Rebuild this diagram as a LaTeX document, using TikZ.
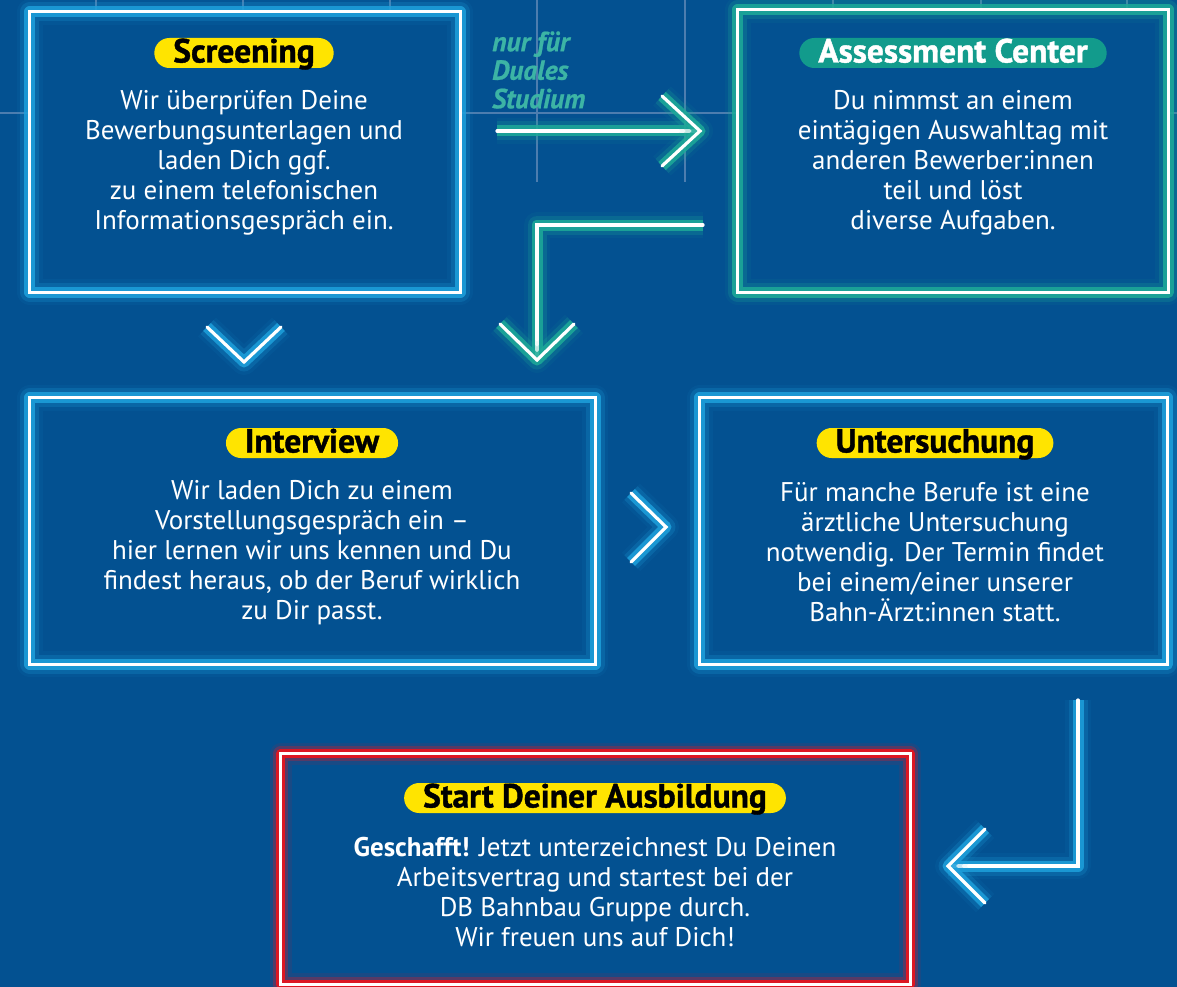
\documentclass[tikz,border=0pt]{standalone}
\usepackage{fontspec}
\setmainfont{PT Sans}
\newfontfamily\headfont{PT Sans Bold}[FakeBold=1.2]
\newfontfamily\notefont{PT Sans Bold Italic}[FakeBold=0.8]
\usetikzlibrary{calc}
\definecolor{bg}{RGB}{3,81,145}
\definecolor{gridc}{RGB}{77,125,175}
\definecolor{glowblue}{RGB}{30,160,220}
\definecolor{glowteal}{RGB}{30,170,152}
\definecolor{glowred}{RGB}{228,22,32}
\definecolor{pillyellow}{RGB}{255,228,0}
\definecolor{pillteal}{RGB}{18,155,140}
\definecolor{tealtext}{RGB}{60,180,165}
\tikzset{
  glowbase/.style={draw=white, line width=3.2pt, line join=miter},
  glowB/.style={glowbase,
    preaction={draw=glowblue,line width=26pt,opacity=.07,line join=round},
    preaction={draw=glowblue,line width=19pt,opacity=.22,line join=round},
    preaction={draw=glowblue,line width=11pt,opacity=.85,line join=round}},
  glowT/.style={glowbase,
    preaction={draw=glowteal,line width=26pt,opacity=.07,line join=round},
    preaction={draw=glowteal,line width=19pt,opacity=.22,line join=round},
    preaction={draw=glowteal,line width=11pt,opacity=.85,line join=round}},
  glowR/.style={glowbase,
    preaction={draw=glowred,line width=22pt,opacity=.10,line join=round},
    preaction={draw=glowred,line width=15pt,opacity=.30,line join=round},
    preaction={draw=glowred,line width=9pt,opacity=.95,line join=round}},
  box/.style={fill=bg, draw=none, inner sep=0pt},
  body/.style={text=white, align=center, font=\fontsize{27}{30}\selectfont, inner sep=0pt},
  pill/.style={fill=pillyellow, text=black, rounded corners=15pt, minimum height=30pt,
    inner xsep=19pt, inner ysep=0pt, text height=22pt, text depth=3pt,
    font=\fontsize{33.5}{33.5}\headfont},
  gridline/.style={draw=gridc, line width=1.4pt}
}
\begin{document}
\begin{tikzpicture}[x=1pt,y=-1pt]
\useasboundingbox (0,0) rectangle (1177,987);
\fill[bg] (0,0) rectangle (1177,987);
% background grid
\foreach \gx in {96,243,390,537,685,833,981,1127} {\draw[gridline] (\gx,0) -- (\gx,182);}
\draw[gridline] (0,113) -- (1177,113);

% boxes
\node[box, minimum width=430pt, minimum height=280pt] (scr) at (245,152) {};
\node[box, minimum width=430pt, minimum height=282pt] (ac) at (953,151) {};
\node[box, minimum width=565pt, minimum height=266pt] (int) at (312.5,531) {};
\node[box, minimum width=467pt, minimum height=266pt] (unt) at (933.5,531) {};
\node[box, minimum width=629pt, minimum height=230pt] (start) at (595.5,869) {};

\draw[glowB] (scr.north west) rectangle (scr.south east);
\draw[glowT] (ac.north west) rectangle (ac.south east);
\draw[glowB] (int.north west) rectangle (int.south east);
\draw[glowB] (unt.north west) rectangle (unt.south east);
\draw[glowR] (start.north west) rectangle (start.south east);

% labels
\node[pill] (scrl) at (244,53) {Screening};
\node[pill, fill=pillteal, text=white] (acl) at (953,53) {Assessment Center};
\node[pill] (intl) at (312,443) {Interview};
\node[pill] (untl) at (935,443) {Untersuchung};
\node[pill] (startl) at (595,798) {Start Deiner Ausbildung};

% body texts
\node[body] (scrt) at (244,163) {Wir überprüfen Deine\\Bewerbungsunterlagen und\\laden Dich ggf.\\zu einem telefonischen\\Informationsgespräch ein.};
\node[body] (act) at (953,163) {Du nimmst an einem\\eintägigen Auswahltag mit\\anderen Bewerber:innen\\teil und löst\\diverse Aufgaben.};
\node[body] (intt) at (312,553) {Wir laden Dich zu einem\\Vorstellungsgespräch ein –\\hier lernen wir uns kennen und Du\\findest heraus, ob der Beruf wirklich\\zu Dir passt.};
\node[body] (untt) at (935,552) {Für manche Berufe ist eine\\ärztliche Untersuchung\\notwendig. Der Termin findet\\bei einem/einer unserer\\Bahn-Ärzt:innen statt.};
\node[body] (startt) at (595,892) {\textbf{Geschafft!} Jetzt unterzeichnest Du Deinen\\Arbeitsvertrag und startest bei der\\DB Bahnbau Gruppe durch.\\Wir freuen uns auf Dich!};

% side note
\node[text=tealtext, align=left, anchor=west, inner sep=0pt,
  font=\fontsize{27.5}{28.5}\notefont] (note) at (492,70) {nur für\\Duales\\Studium};

% connectors
\coordinate (a1s) at (497,131);
\coordinate (a1e) at (700,131);
\draw[glowT, line cap=round] (a1s) -- (a1e);
\draw[glowT, line cap=round] ($(a1e)+(-38,-35)$) -- (a1e) -- ($(a1e)+(-38,35)$);

\coordinate (a2s) at (703,225);
\coordinate (a2e) at (537,360);
\draw[glowT, line cap=round] (a2s) -| (a2e);
\draw[glowT, line cap=round] ($(a2e)+(-37,-36)$) -- (a2e) -- ($(a2e)+(37,-36)$);

\coordinate (c1) at (244,362);
\draw[glowB, line cap=round] ($(c1)+(-37,-35)$) -- (c1) -- ($(c1)+(37,-35)$);

\coordinate (c2) at (666,527);
\draw[glowB, line cap=round] ($(c2)+(-35,-34)$) -- (c2) -- ($(c2)+(-35,35)$);

\coordinate (a3s) at (1078,700);
\coordinate (a3e) at (948,866);
\draw[glowB, line cap=round] (a3s) |- (a3e);
\draw[glowB, line cap=round] ($(a3e)+(37,-37)$) -- (a3e) -- ($(a3e)+(37,37)$);
\end{tikzpicture}
\end{document}
